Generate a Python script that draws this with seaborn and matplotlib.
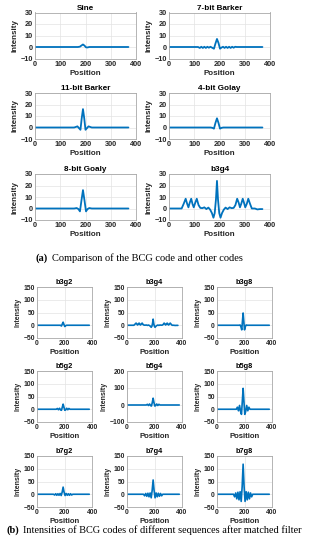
import matplotlib
matplotlib.use("Agg")
import matplotlib.pyplot as plt
import seaborn as sns

# ---- (a) comparison of BCG code and other codes ----
sine_x = [0, 170, 178, 184, 190, 196, 202, 208, 215, 370]
sine_y = [0, 0, 0.3, 1.3, 2.2, 1.2, -0.3, -0.4, 0, 0]

barker7_x = [0, 115, 122, 128, 134, 140, 146, 152, 158, 164, 170, 178, 184, 190, 196, 202,
             208, 214, 220, 226, 232, 238, 244, 250, 256, 262, 268, 370]
barker7_y = [0, 0, -0.8, 0.2, -0.8, 0.2, -0.8, 0.2, -0.6, 0.2, -0.5, -1.5, 3, 7, 3.5, -1.5,
             -0.5, 0.2, -0.8, 0.2, -0.8, 0.2, -0.8, 0.2, -0.6, 0.2, 0, 0]

barker11_x = [0, 155, 162, 168, 174, 180, 185, 190, 195, 200, 206, 212, 218, 225, 370]
barker11_y = [0, 0, 0.5, 1, -0.5, -2, 8, 16, 8, -2, -0.5, 1, 0.5, 0, 0]

golay4_x = [0, 165, 172, 178, 184, 190, 196, 202, 208, 215, 370]
golay4_y = [0, 0, -0.3, -1, 4, 8, 4, -1, -0.3, 0, 0]

golay8_x = [0, 155, 165, 172, 178, 184, 190, 196, 202, 208, 215, 225, 370]
golay8_y = [0, 0, 0.4, -0.5, -2.5, 7, 16, 7, -2.5, -0.5, 0.4, 0, 0]

b3g4_x = [0, 50, 58, 66, 72, 77, 82, 88, 93, 98, 104, 110, 117, 124, 132, 140, 148, 156,
          163, 170, 176, 181, 186, 190, 194, 199, 204, 210, 217, 224, 232, 240, 248, 256,
          263, 270, 276, 281, 286, 292, 297, 302, 308, 314, 321, 328, 340, 350, 360, 370]
b3g4_y = [0, 0, 4, 8.5, 4, 1, 5, 8.5, 4, 1, 5, 8.5, 3, 0.5, 0.3, 1, -0.5, 0.8,
          -1, -4, -8, -4, 8, 24, 8, -4, -8, -4, -1, 0.8, -0.5, 1, 0.3, 0.5,
          3, 8.5, 5, 1, 4, 8.5, 5, 1, 4, 8.5, 4, 0, 0, -0.8, -0.5, -0.5]

top_titles = ["Sine", "7-bit Barker", "11-bit Barker", "4-bit Golay", "8-bit Goaly", "b3g4"]
top_series = [(sine_x, sine_y), (barker7_x, barker7_y), (barker11_x, barker11_y),
              (golay4_x, golay4_y), (golay8_x, golay8_y), (b3g4_x, b3g4_y)]

# ---- (b) BCG codes of different sequences ----
g2_x = [0, 170, 178, 184, 190, 196, 202, 208, 215, 380]
b3g2_y = [0, 0, -3, 5, 12, 3, -5, -2, 0, 0]

g8_x = [0, 160, 168, 174, 180, 185, 190, 195, 200, 206, 212, 220, 380]
b3g8_y = [0, 0, 1, -6, -18, 15, 48, 15, -18, -6, 1, 0, 0]

b5_x = [0, 140, 148, 156, 164, 172, 178, 184, 190, 196, 202, 208, 216, 224, 232, 240, 248, 380]
b5g2_y = [0, 0, 3, -2, 4, -3, -4, 8, 20, 8, -4, -3, 4, -2, 3, 0, 0, 0]
b5g4_y = [0, 0, 4, -3, 6, -4, -6, 15, 40, 15, -6, -4, 6, -3, 4, 0, 0, 0]
b5g8_y = [0, 0, 8, -6, 15, -10, -20, 30, 82, 30, -20, -10, 15, -6, 8, 0, 0, 0]

b7_x = [0, 120, 128, 136, 144, 152, 160, 168, 176, 183, 190, 197, 204, 212, 220, 228, 236,
        244, 252, 260, 380]
b7g2_y = [0, 0, -3, 2, -4, 2, -4, 3, -5, 8, 28, 8, -5, 3, -4, 2, -4, 2, -3, 0, 0]
b7g4_y = [0, 0, -6, 3, -8, 4, -10, 5, -14, 15, 56, 15, -14, 5, -10, 4, -8, 3, -6, 0, 0]
b7g8_y = [0, 0, -10, 5, -18, 8, -22, 10, -28, 30, 118, 30, -28, 10, -22, 8, -18, 5, -10, 0, 0]

bot_titles = ["b3g2", "b3g4", "b3g8", "b5g2", "b5g4", "b5g8", "b7g2", "b7g4", "b7g8"]
bot_series = [(g2_x, b3g2_y), (b3g4_x, b3g4_y), (g8_x, b3g8_y),
              (b5_x, b5g2_y), (b5_x, b5g4_y), (b5_x, b5g8_y),
              (b7_x, b7g2_y), (b7_x, b7g4_y), (b7_x, b7g8_y)]
bot_ylims = [(-50, 150)] * 4 + [(-100, 200)] + [(-50, 150)] * 4

sns.set_theme(style="whitegrid")
plt.rcParams["font.family"] = ["Liberation Sans", "DejaVu Sans"]

W, H = 311, 550
fig = plt.figure(figsize=(W / 100, H / 100), dpi=100)
BLUE = "#0072BD"
TXT = "#262626"


def style_ax(ax, title, tick_fs, lab_fs, ylab_fs, title_fs):
    ax.set_title(title, fontsize=title_fs, fontweight="bold", color="black", pad=2)
    ax.set_xlabel("Position", fontsize=lab_fs, fontweight="bold", color=TXT, labelpad=1.5)
    ax.set_ylabel("Intensity", fontsize=ylab_fs, fontweight="bold", color=TXT, labelpad=1.5)
    ax.tick_params(axis="both", labelsize=tick_fs, pad=1.5, length=0, colors=TXT)
    for lab in ax.get_xticklabels() + ax.get_yticklabels():
        lab.set_fontweight("bold")
    ax.grid(True, color="#e3e3e3", linewidth=0.5)
    for sp in ax.spines.values():
        sp.set_color("#a8a8a8")
        sp.set_linewidth(0.6)
    ax.set_facecolor("white")


def add_ax(left, top, w, h):
    return fig.add_axes([left / W, 1 - (top + h) / H, w / W, h / H])


# top section: 3 rows x 2 cols
top_lefts = [35, 169]
top_tops = [12.5, 93, 174]
for i, (title, (xs, ys)) in enumerate(zip(top_titles, top_series)):
    ax = add_ax(top_lefts[i % 2], top_tops[i // 2], 101, 46)
    sns.lineplot(x=xs, y=ys, ax=ax, color=BLUE, linewidth=1.3, estimator=None)
    ax.set_xlim(0, 400)
    ax.set_ylim(-10, 30)
    ax.set_xticks([0, 100, 200, 300, 400])
    ax.set_yticks([-10, 0, 10, 20, 30])
    style_ax(ax, title, 5.3, 5.8, 5.8, 5.9)

# bottom section: 3 rows x 3 cols
bot_lefts = [37, 127, 217]
bot_tops = [287, 371, 456]
for i, (title, (xs, ys)) in enumerate(zip(bot_titles, bot_series)):
    ax = add_ax(bot_lefts[i % 3], bot_tops[i // 3], 55, 51)
    sns.lineplot(x=xs, y=ys, ax=ax, color=BLUE, linewidth=1.2, estimator=None)
    lo, hi = bot_ylims[i]
    ax.set_xlim(0, 400)
    ax.set_ylim(lo, hi)
    ax.set_xticks([0, 200, 400])
    if hi == 200:
        ax.set_yticks([-100, 0, 100, 200])
    else:
        ax.set_yticks([-50, 0, 50, 100, 150])
    style_ax(ax, title, 4.9, 5.6, 5.0, 5.3)

# captions
cap_font = ["Liberation Serif", "DejaVu Serif"]
fig.canvas.draw()
renderer = fig.canvas.get_renderer()


def caption(x_px, y_px, tag, rest, fs):
    t = fig.text(x_px / W, 1 - y_px / H, tag, fontsize=fs, fontweight="bold",
                 family=cap_font, ha="left", va="center", color="black")
    bb = t.get_window_extent(renderer)
    fig.text((bb.x1 + 4) / W, 1 - y_px / H, rest, fontsize=fs, family=cap_font,
             ha="left", va="center", color="black")


caption(36, 258, "(a)", "Comparison of the BCG code and other codes", 7.5)
caption(6, 530, "(b)", "Intensities of BCG codes of different sequences after matched filter", 7.4)

fig.savefig("out.png", dpi=100, facecolor="white")
